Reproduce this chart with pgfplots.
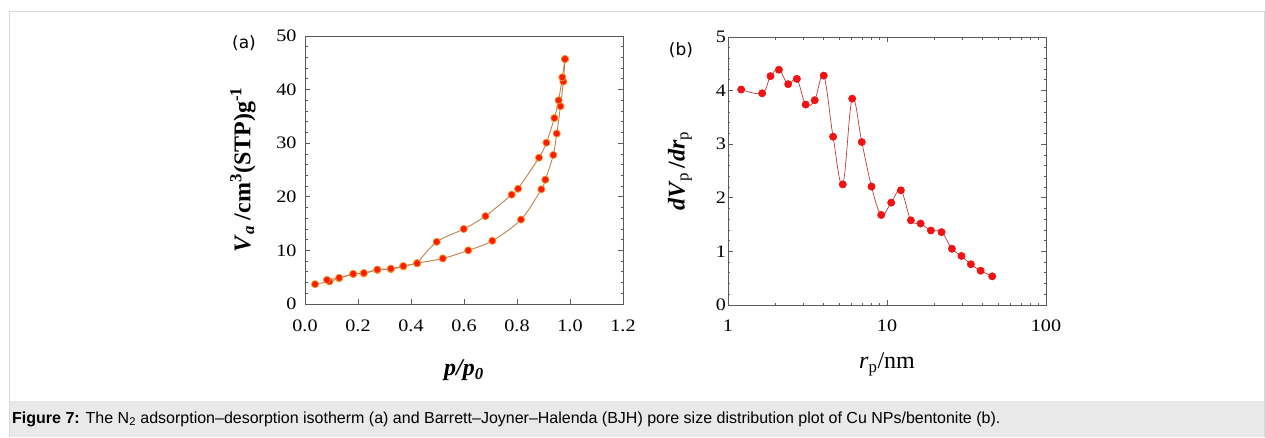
\documentclass[border=0pt]{standalone}
\usepackage{fontspec}
\setmainfont{Liberation Serif}
\newfontfamily\tickfont{Liberation Serif}[FakeStretch=1.15]
\newfontfamily\capfont{Liberation Sans}
\newfontfamily\panelfont{DejaVu Sans}
\usepackage{pgfplots}
\pgfplotsset{compat=1.18}

\definecolor{isoline}{HTML}{BE834C}
\definecolor{isofill}{HTML}{FF1A00}
\definecolor{isoedge}{HTML}{F39A2A}
\definecolor{bjhline}{HTML}{B83030}
\definecolor{bjhfill}{HTML}{F21212}
\definecolor{axisgray}{HTML}{5A5A5A}
\definecolor{framegray}{HTML}{D9D9D9}
\definecolor{capgray}{HTML}{E9E9E9}

\pgfplotsset{
  panel/.style={
    scale only axis,
    width=318pt, height=268pt,
    anchor=south west,
    axis line style={axisgray, line width=1pt},
    every tick/.style={axisgray, line width=0.8pt},
    tick align=inside,
    major tick length=5pt,
    minor tick length=2.5pt,
    /pgf/number format/assume math mode=true,
    tick label style={font=\tickfont\fontsize{17.5}{17.5}\selectfont},
    label style={font=\fontsize{24}{26}\selectfont},
  }
}

\begin{document}
\begin{tikzpicture}[x=1pt,y=1pt]
\useasboundingbox (0,0) rectangle (1265,-437);
\fill[white] (0,0) rectangle (1265,-437);
\fill[capgray] (9.5,-401) rectangle (1264,-437);
\draw[framegray, line width=1pt] (9.5,-437) -- (9.5,-11.5) -- (1264,-11.5) -- (1264,-437);

% (a) N2 isotherm
\begin{axis}[panel,
  at={(305pt,-304pt)},
  xmin=0, xmax=1.2, ymin=0, ymax=50,
  xtick={0,0.2,0.4,0.6,0.8,1.0,1.2},
  ytick={0,10,20,30,40,50},
  minor y tick num=4,
  xtick pos=left, ytick pos=both,
  xticklabel style={/pgf/number format/fixed, /pgf/number format/fixed zerofill,
    /pgf/number format/precision=1, yshift=-12pt},
  yticklabel style={xshift=-5pt},
  xlabel={\textbf{\textit{p/p}\textsubscript{\textit{0}}}},
  ylabel={\textbf{\textit{V}\textsubscript{\textit{a}} /cm\textsuperscript{3}(STP)g\textsuperscript{-1}}},
  xlabel style={at={(axis description cs:0.5,-0.246)}, anchor=center},
  ylabel style={at={(axis description cs:-0.195,0.5)}, anchor=center},
]
% adsorption
\addplot[isoline, line width=0.9pt, smooth, tension=0.5, mark=*, mark size=3.6pt,
  mark options={fill=isofill, draw=isoedge, line width=0.7pt}] coordinates {
(0.038,3.7) (0.092,4.2) (0.129,4.8) (0.182,5.6) (0.222,5.7) (0.273,6.35)
(0.324,6.5) (0.371,7.0) (0.423,7.6) (0.520,8.5) (0.616,10.0) (0.707,11.8)
(0.815,15.75) (0.892,21.4) (0.907,23.2) (0.937,27.8) (0.950,31.8)
(0.964,36.9) (0.975,41.5) (0.981,45.7)
};
% desorption, upper branch
\addplot[isoline, line width=0.9pt, smooth, tension=0.5, mark=*, mark size=3.6pt,
  mark options={fill=isofill, draw=isoedge, line width=0.7pt}] coordinates {
(0.981,45.7) (0.971,42.3) (0.957,38.0) (0.941,34.7) (0.911,30.1) (0.883,27.3)
(0.804,21.5) (0.780,20.4) (0.681,16.4) (0.599,14.0) (0.497,11.6) (0.423,7.6)
};
% desorption, closing part
\addplot[isoline, line width=0.9pt, smooth, tension=0.5, mark=*, mark size=3.6pt,
  mark options={fill=isofill, draw=isoedge, line width=0.7pt}] coordinates {
(0.423,7.6) (0.371,7.08) (0.324,6.6) (0.273,6.42) (0.222,5.78) (0.182,5.62)
(0.129,4.88) (0.083,4.5)
};
\end{axis}

% (b) BJH
\begin{axis}[panel,
  at={(728pt,-305pt)},
  xmode=log, xmin=1, xmax=100, ymin=0, ymax=5,
  xtick={1,10,100}, xticklabels={1,10,100},
  ytick={0,1,2,3,4,5},
  minor y tick num=4,
  xtick pos=both, ytick pos=both,
  xticklabel style={yshift=-11pt},
  yticklabel style={xshift=1.5pt},
  xlabel={\textit{r}\textsubscript{p}/nm},
  ylabel={\textbf{\textit{dV}}\textsubscript{p}\,\textbf{/\textit{dr}}\textsubscript{p}},
  xlabel style={at={(axis description cs:0.5,-0.222)}, anchor=center},
  ylabel style={at={(axis description cs:-0.151,0.5)}, anchor=center},
]
\addplot[bjhline, line width=0.65pt, smooth, tension=0.6, mark=*, mark size=3.6pt,
  mark options={fill=bjhfill, draw=bjhfill}] coordinates {
(1.21,4.02) (1.64,3.95) (1.85,4.27) (2.09,4.39) (2.39,4.12) (2.71,4.22)
(3.08,3.74) (3.51,3.82) (4.00,4.28) (4.58,3.14) (5.27,2.25) (6.04,3.85)
(6.94,3.04) (7.99,2.21) (9.20,1.68) (10.62,1.91) (12.22,2.14) (14.13,1.58)
(16.26,1.52) (18.88,1.39) (22.03,1.36) (25.6,1.05) (29.4,0.915) (33.7,0.76)
(38.8,0.64) (45.9,0.535)
};
\end{axis}

\node[font=\panelfont\fontsize{17}{17}\selectfont] at (244,-43) {(a)};
\node[font=\panelfont\fontsize{17}{17}\selectfont] at (681,-50) {(b)};
\node[anchor=west, inner sep=0pt, font=\capfont\fontsize{16}{18}\selectfont] at (12,-419)
  {\textbf{Figure 7:} The N\textsubscript{2} adsorption–desorption isotherm (a) and Barrett–Joyner–Halenda (BJH) pore size distribution plot of Cu NPs/bentonite (b).};
\end{tikzpicture}
\end{document}
